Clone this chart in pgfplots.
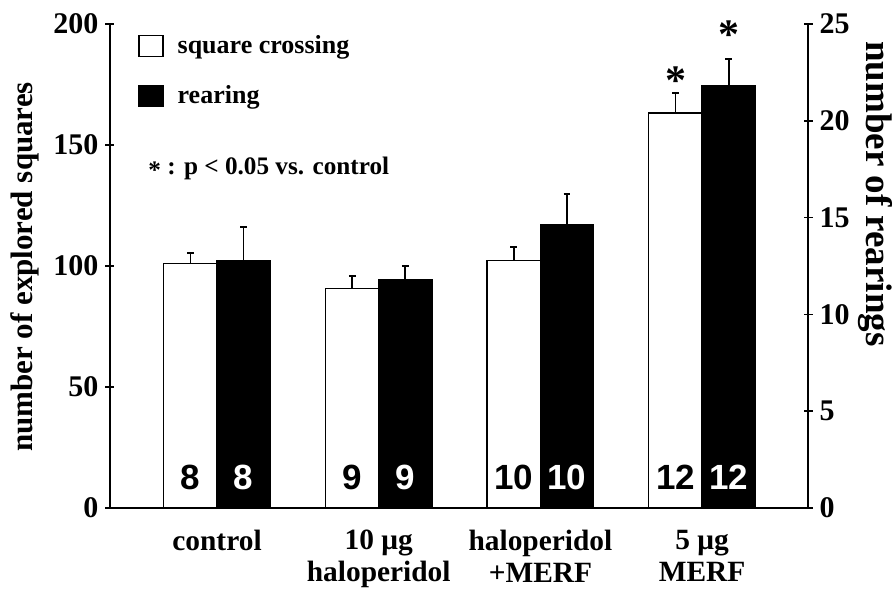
\documentclass[border=0pt]{standalone}
\usepackage{fontspec}
\setmainfont{Liberation Serif}
\newfontfamily\arialfont{Liberation Sans}
\usepackage{pgfplots}
\usepackage{pgfplotstable}
\pgfplotsset{compat=1.18}

\newcommand{\fs}[1]{\fontsize{#1}{#1}\selectfont\bfseries}

% group, square crossings (left axis), rearings (right axis)
\pgfplotstableread{
x  sq     sqerr  rear   rearerr
0  101.0  4.4    12.79  1.74
1  90.6   5.4    11.81  0.69
2  102.2  5.65   14.62  1.60
3  163.2  8.4    21.83  1.36
}\datatable

\pgfplotsset{
  base/.style={
    scale only axis, width=349pt, height=242pt,
    xmin=-0.662, xmax=3.655,
    clip=false,
    axis line style={line width=0.7pt},
    every tick/.style={black, line width=0.7pt},
    tick align=center, major tick length=4.5pt,
    yticklabel style={font=\fs{15}},
    /pgf/number format/assume math mode=true,
  },
  errs/.style={
    error bars/.cd, y dir=plus, y explicit,
    error bar style={line width=0.9pt},
    error mark options={rotate=90, mark size=1.7pt, line width=0.9pt},
  },
}

\begin{document}
\begin{tikzpicture}
\begin{axis}[base,
  ymin=0, ymax=200, ytick={0,50,...,200},
  axis y line*=left, axis x line*=bottom,
  xtick={0,1,2,3},
  xticklabels={control,{10 μg\\haloperidol},{haloperidol\\+MERF},{5 μg\\MERF}},
  x tick style={draw=none},
  xticklabel style={align=center, font=\fontsize{14.7}{16}\selectfont\bfseries, inner sep=0pt, yshift=-8.5pt},
  ylabel={number of explored squares},
  ylabel style={at={(rel axis cs:-0.122,0.498)}, anchor=center, font=\fs{15.5}},
  legend style={at={(rel axis cs:0.0402,0.985)}, anchor=north west, draw=none, fill=none,
    font=\fs{13}, inner sep=0pt, row sep=10.5pt, column sep=5pt},
  legend cell align=left,
]
\addplot[ybar, bar width=26.75pt, bar shift=0pt, fill=white, draw=black, line width=0.65pt,
  forget plot, errs] table[x expr=\thisrow{x}-0.164, y=sq, y error=sqerr] {\datatable};
\addlegendimage{legend image code/.code={\draw[fill=white, draw=black, line width=0.6pt] (0pt,-5.25pt) rectangle (12pt,5.25pt);}}
\addlegendentry{square crossing}
\addlegendimage{legend image code/.code={\draw[fill=black, draw=black, line width=0.6pt] (0pt,-5.25pt) rectangle (12pt,5.25pt);}}
\addlegendentry{rearing}
\node[anchor=west, inner sep=0pt, font=\fs{12.6}] at (rel axis cs:0.0545,0.7025) {\raisebox{-0.35ex}{*} : p < 0.05 vs. control};
\end{axis}

\begin{axis}[base,
  ymin=0, ymax=25, ytick={0,5,...,25},
  axis y line*=right, axis x line=none,
  ylabel={number of rearings},
  ylabel style={at={(rel axis cs:1.097,0.649)}, anchor=center, rotate=180, font=\fs{18.5}},
]
\addplot[ybar, bar width=26.75pt, bar shift=0pt, fill=black, draw=black, line width=0.65pt,
  errs] table[x expr=\thisrow{x}+0.164, y=rear, y error=rearerr] {\datatable};
% n per group
\node[font=\arialfont\fs{17.5}] at (axis cs:-0.164,1.6) {8};
\node[font=\arialfont\fs{17.5}, white] at (axis cs:0.164,1.6) {8};
\node[font=\arialfont\fs{17.5}] at (axis cs:0.836,1.6) {9};
\node[font=\arialfont\fs{17.5}, white] at (axis cs:1.164,1.6) {9};
\node[font=\arialfont\fs{17.5}] at (axis cs:1.836,1.6) {10};
\node[font=\arialfont\fs{17.5}, white] at (axis cs:2.164,1.6) {10};
\node[font=\arialfont\fs{17.5}] at (axis cs:2.836,1.6) {12};
\node[font=\arialfont\fs{17.5}, white] at (axis cs:3.164,1.6) {12};
% significance
\node[font=\fs{21}, yshift=-3pt] at (axis cs:2.836,22.36) {*};
\node[font=\fs{21}, yshift=-3pt] at (axis cs:3.164,24.74) {*};
\end{axis}
\pgfresetboundingbox
\path[use as bounding box] (-55pt,-40.5pt) rectangle (392pt,254pt);
\end{tikzpicture}
\end{document}
